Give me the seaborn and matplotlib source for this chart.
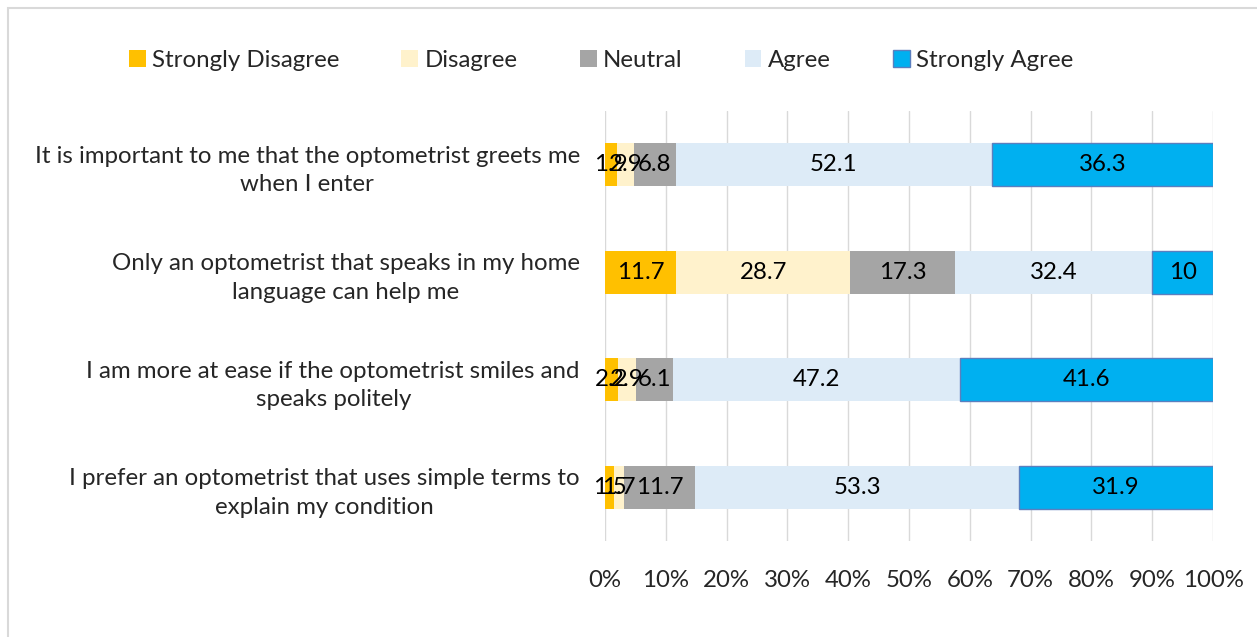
import matplotlib
matplotlib.use('Agg')
import matplotlib.pyplot as plt
import seaborn as sns
import numpy as np
import pandas as pd
from matplotlib.patches import Rectangle

sns.set_style("white")
plt.rcParams['font.family'] = ['Lato', 'DejaVu Sans']

# data
statements = [
    "It is important to me that the optometrist greets me\nwhen I enter",
    "Only an optometrist that speaks in my home\nlanguage can help me",
    "I am more at ease if the optometrist smiles and\nspeaks politely",
    "I prefer an optometrist that uses simple terms to\nexplain my condition",
]
levels = ["Strongly Disagree", "Disagree", "Neutral", "Agree", "Strongly Agree"]
strongly_disagree = [1.9, 11.7, 2.2, 1.5]
disagree = [2.9, 28.7, 2.9, 1.7]
neutral = [6.8, 17.3, 6.1, 11.7]
agree = [52.1, 32.4, 47.2, 53.3]
strongly_agree = [36.3, 10, 41.6, 31.9]
tick_labels = ["0%", "10%", "20%", "30%", "40%", "50%", "60%", "70%", "80%", "90%", "100%"]

colors = ["#FFC000", "#FFF2CC", "#A5A5A5", "#DDEBF7", "#00B0F0"]
edges = ["none", "none", "none", "none", "#5B7FBF"]

FS = 17.3

series = [strongly_disagree, disagree, neutral, agree, strongly_agree]
df = pd.DataFrame(dict(zip(levels, series)), index=statements)
totals = df.sum(axis=1)
pct = df.div(totals, axis=0) * 100

fig = plt.figure(figsize=(12.57, 6.37), dpi=100)
ax = fig.add_axes([0.4813, 0.1507, 0.4837, 0.675])

# outer chart border
fig.patches.append(Rectangle((8 / 1257, -0.1), 1.2, 1 - 8 / 637 + 0.1,
                             transform=fig.transFigure, fill=False,
                             edgecolor="#D9D9D9", linewidth=1.5))

left = np.zeros(len(statements))
for lvl, col, ec in zip(levels, colors, edges):
    vals = pct[lvl].values
    sns.barplot(x=vals, y=statements, orient="h", color=col, width=0.4,
                saturation=1, edgecolor=ec, linewidth=1 if ec != "none" else 0,
                label=lvl, ax=ax, zorder=3)
    for i, p in enumerate(ax.containers[-1]):
        p.set_x(left[i])
    for i, (l, v, raw) in enumerate(zip(left, vals, df[lvl].values)):
        ax.text(l + v / 2, i, f"{raw:g}", ha="center", va="center", fontsize=FS,
                color="black", zorder=5)
    left += vals

ax.set_xlim(0, 100)
ax.set_ylim(3.5, -0.5)
ax.set_xticks(np.arange(0, 101, 10))
ax.set_xticklabels(tick_labels)
ax.xaxis.grid(True, color="#D9D9D9", linewidth=1, zorder=0)
ax.set_axisbelow(True)
for s in ax.spines.values():
    s.set_visible(False)
ax.tick_params(axis="x", length=0, pad=21, labelsize=FS)
ax.tick_params(axis="y", length=0, pad=18, labelsize=FS)
for t in ax.get_yticklabels():
    t.set_multialignment("center")
    t.set_linespacing(1.45)
ax.set_xlabel("")
ax.set_ylabel("")

handles, labels = ax.get_legend_handles_labels()
if ax.legend_:
    ax.legend_.remove()
fig.legend(handles, labels, loc="center", bbox_to_anchor=(0.478, 0.905), ncol=5,
           frameon=False, fontsize=FS, handlelength=0.7, handleheight=0.7,
           handletextpad=0.25, columnspacing=2.6)

fig.savefig("out.png", dpi=100)
